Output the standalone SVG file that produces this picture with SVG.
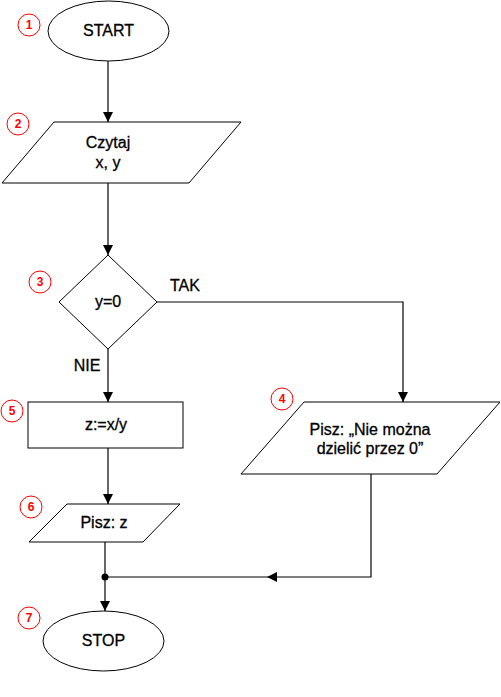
<svg xmlns="http://www.w3.org/2000/svg" width="501" height="697" viewBox="0 0 501 697">
<defs>
<style>
.s{fill:#fff;stroke:#000;stroke-width:1}
.c{fill:none;stroke:#000;stroke-width:1.2}
.t{font-family:"Liberation Sans",Arial,sans-serif;font-size:16px;text-anchor:middle;fill:#000;stroke:#000;stroke-width:0.3}
.n{fill:#fff;stroke:#f00;stroke-width:1}
.nt{font-family:"Liberation Sans",Arial,sans-serif;font-size:12px;font-weight:bold;text-anchor:middle;fill:#f00}
</style>
<marker id="a" viewBox="0 0 10 10" refX="10" refY="5" markerWidth="10" markerHeight="10" markerUnits="userSpaceOnUse" orient="auto">
<path d="M0,0 L10,5 L0,10 z" fill="#000"/>
</marker>
</defs>
<rect width="501" height="697" fill="#fff"/>
<g id="connectors">
<line class="c" x1="108" y1="61" x2="108" y2="122" marker-end="url(#a)"/>
<line class="c" x1="108" y1="183" x2="108" y2="255" marker-end="url(#a)"/>
<line class="c" x1="108" y1="349" x2="108" y2="402" marker-end="url(#a)"/>
<polyline class="c" points="157,302 403,302 403,402" marker-end="url(#a)"/>
<line class="c" x1="108" y1="448" x2="108" y2="504" marker-end="url(#a)"/>
<line class="c" x1="105" y1="542" x2="105" y2="611" marker-end="url(#a)"/>
<polyline class="c" points="371,474 371,577 267,577" marker-end="url(#a)"/>
<line class="c" x1="267" y1="577" x2="105" y2="577"/>
<circle cx="105" cy="577" r="3.5" fill="#000"/>
<text class="t" x="185" y="291">TAK</text>
<text class="t" x="87" y="371">NIE</text>
</g>
<g id="n1">
<ellipse class="s" cx="108.5" cy="31" rx="60.5" ry="30"/>
<text class="t" x="108.5" y="36">START</text>
<circle class="n" cx="29" cy="25" r="11"/>
<text class="nt" x="29" y="29">1</text>
</g>
<g id="n2">
<polygon class="s" points="54,122 241,122 189,183 2,183"/>
<text class="t" x="108" y="148">Czytaj</text>
<text class="t" x="108" y="168">x, y</text>
<circle class="n" cx="18" cy="124" r="11"/>
<text class="nt" x="18" y="128">2</text>
</g>
<g id="n3">
<polygon class="s" points="108,255 157,302 108,349 59,302"/>
<text class="t" x="108" y="307">y=0</text>
<circle class="n" cx="40" cy="282" r="11"/>
<text class="nt" x="40" y="286">3</text>
</g>
<g id="n5">
<rect class="s" x="28" y="402" width="155" height="46"/>
<text class="t" x="106" y="430">z:=x/y</text>
<circle class="n" cx="12" cy="411" r="11"/>
<text class="nt" x="12" y="415">5</text>
</g>
<g id="n4">
<polygon class="s" points="304,402 500,402 437,474 241,474"/>
<text class="t" x="370" y="435">Pisz: „Nie można</text>
<text class="t" x="370" y="454">dzielić przez 0”</text>
<circle class="n" cx="282" cy="399" r="11"/>
<text class="nt" x="282" y="403">4</text>
</g>
<g id="n6">
<polygon class="s" points="67,504 180,504 143,542 29,542"/>
<text class="t" x="104" y="528">Pisz: z</text>
<circle class="n" cx="31" cy="507" r="11"/>
<text class="nt" x="31" y="511">6</text>
</g>
<g id="n7">
<ellipse class="s" cx="103.5" cy="641" rx="60.5" ry="30"/>
<text class="t" x="103.5" y="646">STOP</text>
<circle class="n" cx="29" cy="618" r="11"/>
<text class="nt" x="29" y="622">7</text>
</g>
</svg>
